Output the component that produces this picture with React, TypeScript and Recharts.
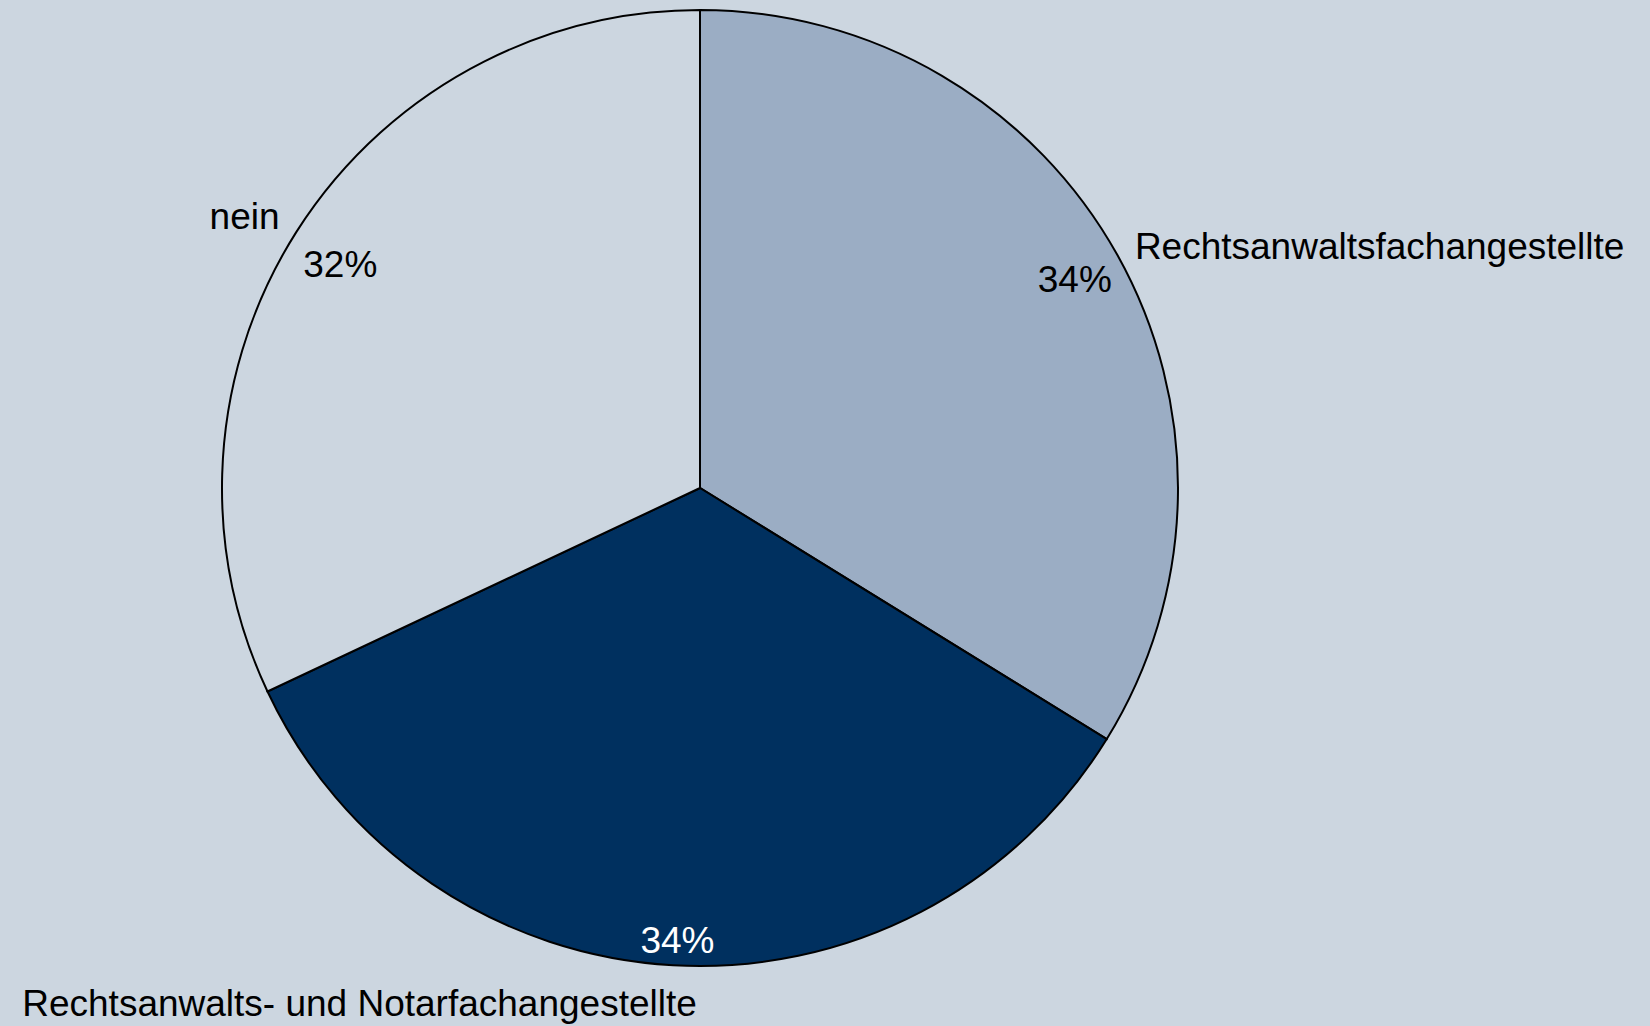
import { PieChart, Pie, Cell } from "recharts"

const categories = [
  "Rechtsanwaltsfachangestellte",
  "Rechtsanwalts- und Notarfachangestellte",
  "nein",
]
const shares = [33.8, 34.2, 32.0]

const data = categories.map((name, i) => ({ name, value: shares[i] }))

const BG = "#CCD6E0"
const fills = ["#9BADC4", "#00305F", "#CCD6E0"]
const pctColors = ["#000000", "#FFFFFF", "#000000"]
const FONT = "'Liberation Sans', Arial, sans-serif"
const FS = 37
const RAD = Math.PI / 180

function renderLabel(props: any) {
  const { cx, cy, midAngle, outerRadius, percent, index, name } = props
  const cos = Math.cos(-midAngle * RAD)
  const sin = Math.sin(-midAngle * RAD)

  // percentage: inside, box pushed against the rim
  const pctText = `${Math.round(percent * 100)}%`
  const w = pctText.length * 0.667 * FS
  const h = 0.72 * FS
  const extent = Math.abs(cos) * w / 2 + Math.abs(sin) * h / 2
  const d = outerRadius - 10 - extent
  const px = cx + d * cos + (cos < 0 ? 3 : 0)
  const py = cy + d * sin + (cos < -0.5 ? 6 : 0)

  // category name: outside
  const nr = outerRadius + 20
  const nx = cx + nr * cos + (sin > 0.9 ? 25 : 0)
  const ny = cy + nr * sin + (sin > 0 ? sin * 18 : cos < 0 ? sin * 10 : 0)

  return (
    <g>
      <text
        x={px}
        y={py + h / 2}
        textAnchor="middle"
        fill={pctColors[index]}
        fontFamily={FONT}
        fontSize={FS}
      >
        {pctText}
      </text>
      <text
        x={nx}
        y={ny + h / 2}
        textAnchor={cos >= 0 ? "start" : "end"}
        fill="#000000"
        fontFamily={FONT}
        fontSize={FS}
      >
        {name}
      </text>
    </g>
  )
}

export default function App() {
  return (
    <div style={{ position: "absolute", left: 0, top: 0, width: 1650, height: 1026, background: BG }}>
      <PieChart width={1650} height={1026} margin={{ top: 0, right: 0, bottom: 0, left: 0 }}>
        <Pie
          data={data}
          dataKey="value"
          nameKey="name"
          cx={700}
          cy={488}
          outerRadius={478}
          startAngle={90}
          endAngle={-270}
          stroke="#000000"
          strokeWidth={2}
          label={renderLabel}
          labelLine={false}
          isAnimationActive={false}
        >
          {data.map((d, i) => (
            <Cell key={d.name} fill={fills[i]} />
          ))}
        </Pie>
      </PieChart>
    </div>
  )
}
